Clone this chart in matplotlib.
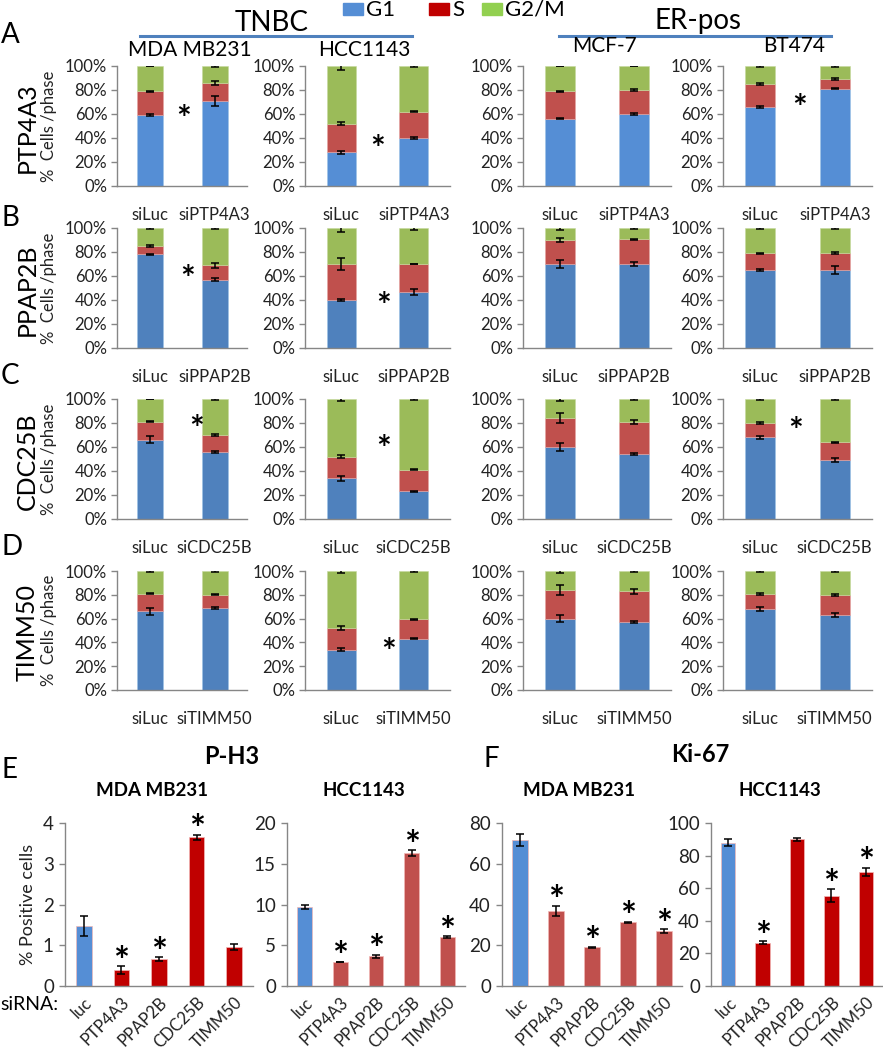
import matplotlib
matplotlib.use("Agg")
import matplotlib.pyplot as plt
from matplotlib.patches import Rectangle
from matplotlib.lines import Line2D
import numpy as np

plt.rcParams['font.family'] = ['Lato', 'DejaVu Sans']

# ---------------- data ----------------
cell_lines = ["MDA MB231", "HCC1143", "MCF-7", "BT474"]
genes = ["PTP4A3", "PPAP2B", "CDC25B", "TIMM50"]
phases = ["G1", "S", "G2/M"]

# G1 and S percentages: [cell line][siLuc, siGene]
g1_ptp4a3 = [[59, 71], [28, 40], [56, 60], [66, 81]]
s_ptp4a3 = [[20, 15], [24, 22], [23, 20], [19, 8.5]]
g1_ppap2b = [[78, 57], [40, 47], [70, 70], [65, 65]]
s_ppap2b = [[7, 12], [30, 23], [20, 20.5], [14, 14]]
g1_cdc25b = [[66, 56], [34, 23], [60, 54], [68, 49]]
s_cdc25b = [[15, 14], [18, 18], [24, 27], [12, 15]]
g1_timm50 = [[66, 69], [34, 43], [60, 57], [68, 63]]
s_timm50 = [[15, 11], [18, 16.5], [24, 26], [13, 17]]

# error bars at the G1 top, G1+S top and 100% top
eg1_ptp4a3 = [[1, 4], [1, 1], [0.5, 1], [1, 0.5]]
es_ptp4a3 = [[0.5, 1.5], [1.5, 0.5], [0.5, 0.7], [0.5, 0.8]]
eg2_ptp4a3 = [[0.3, 1], [3, 1], [0.3, 0.3], [0.5, 1]]
eg1_ppap2b = [[0.5, 1.5], [0.5, 2.5], [3, 1.5], [1, 3.5]]
es_ppap2b = [[1, 2], [5, 0.3], [2, 0.5], [0.5, 0.8]]
eg2_ppap2b = [[0.5, 1], [3, 1.5], [2, 0.5], [1, 1]]
eg1_cdc25b = [[3, 0.8], [2, 0.7], [3, 1], [1.5, 1.5]]
es_cdc25b = [[0.5, 0.5], [1.5, 0.5], [4, 1.5], [0.8, 0.5]]
eg2_cdc25b = [[0.3, 1], [1.5, 0.5], [1.5, 0.5], [0.5, 1]]
eg1_timm50 = [[3, 1], [1.5, 0.5], [3, 1], [1.5, 2]]
es_timm50 = [[0.5, 0.5], [1.5, 0.5], [4, 2], [0.8, 1]]
eg2_timm50 = [[0.5, 0.5], [1.5, 0.5], [1.5, 0.5], [0.5, 1]]

# significance stars: (row, col, x position between bars, y %)
stars_cycle = [(0, 0, 0.53, 63), (0, 1, 0.5, 38), (0, 3, 0.53, 72),
               (1, 0, 0.58, 65), (1, 1, 0.58, 42),
               (2, 0, 0.73, 82), (2, 1, 0.58, 66), (2, 3, 0.47, 81),
               (3, 1, 0.65, 39)]

sirna = ["luc", "PTP4A3", "PPAP2B", "CDC25B", "TIMM50"]
ph3_mda = [1.47, 0.39, 0.66, 3.65, 0.96]
ph3_mda_err = [0.24, 0.1, 0.05, 0.06, 0.08]
ph3_mda_star = [False, True, True, True, False]
ph3_hcc = [9.7, 2.95, 3.65, 16.3, 6.05]
ph3_hcc_err = [0.2, 0.05, 0.2, 0.4, 0.1]
ph3_hcc_star = [False, True, True, True, True]
ki67_mda = [71.5, 37, 19, 31.2, 27]
ki67_mda_err = [3, 2.5, 0.3, 0.3, 1]
ki67_mda_star = [False, True, True, True, True]
ki67_hcc = [88, 26.5, 90, 55.5, 70]
ki67_hcc_err = [2, 1, 0.8, 4, 2.5]
ki67_hcc_star = [False, True, False, True, True]

# ---------------- layout ----------------
W, H = 883, 1050
fig = plt.figure(figsize=(W / 100, H / 100), dpi=100)

def ax_px(x0, x1, ytop, ybot):
    return fig.add_axes([x0 / W, 1 - ybot / H, (x1 - x0) / W, (ybot - ytop) / H])

SPINE = '#868686'
BLUE_L = '#558ED5'
BLUE_D = '#4F81BD'
RED = '#C0504D'
DRED = '#C00000'
GREEN = '#9BBB59'

def style(ax):
    for sp in ['top', 'right']:
        ax.spines[sp].set_visible(False)
    for sp in ['left', 'bottom']:
        ax.spines[sp].set_color(SPINE)
        ax.spines[sp].set_linewidth(1.0)
    ax.tick_params(axis='y', direction='out', length=4, color=SPINE, width=1,
                   labelsize=12, pad=3, labelcolor='#222222')
    ax.tick_params(axis='x', length=0, labelsize=12, labelcolor='#222222')

def star(ax, x, y, fs):
    ax.annotate("*", (x, y), xytext=(0, -fs * 0.28), textcoords='offset points',
                fontsize=fs, fontweight='bold', ha='center', va='center',
                annotation_clip=False, zorder=5)

col_px = [(117, 247), (305, 450), (523, 671), (723, 872)]
row_px = [(66, 186), (228, 348), (399, 519), (571, 690)]

g1_all = [g1_ptp4a3, g1_ppap2b, g1_cdc25b, g1_timm50]
s_all = [s_ptp4a3, s_ppap2b, s_cdc25b, s_timm50]
eg1_all = [eg1_ptp4a3, eg1_ppap2b, eg1_cdc25b, eg1_timm50]
es_all = [es_ptp4a3, es_ppap2b, es_cdc25b, es_timm50]
eg2_all = [eg2_ptp4a3, eg2_ppap2b, eg2_cdc25b, eg2_timm50]

ekw = dict(fmt='none', ecolor='black', elinewidth=1.1, capsize=3, capthick=1.1)

axes_grid = {}
for r, gene in enumerate(genes):
    blue = BLUE_L if r == 0 else BLUE_D
    for c in range(4):
        ax = ax_px(col_px[c][0], col_px[c][1], row_px[r][0], row_px[r][1])
        axes_grid[(r, c)] = ax
        style(ax)
        x = np.arange(2)
        g1 = np.array(g1_all[r][c], float)
        s = np.array(s_all[r][c], float)
        g2 = 100 - g1 - s
        ax.bar(x, g1, 0.4, color=blue, edgecolor='#9DC3E6', linewidth=0.4, zorder=2)
        ax.bar(x, s, 0.4, bottom=g1, color=RED, edgecolor='#E6A5A3', linewidth=0.4, zorder=2)
        ax.bar(x, g2, 0.4, bottom=g1 + s, color=GREEN, edgecolor='#C6DA9E', linewidth=0.4, zorder=2)
        ax.errorbar(x, g1, yerr=eg1_all[r][c], zorder=3, **ekw)
        ax.errorbar(x, g1 + s, yerr=es_all[r][c], zorder=3, **ekw)
        ax.errorbar(x, g1 + s + g2, yerr=eg2_all[r][c], zorder=3, **ekw)
        ax.set_xlim(-0.5, 1.5)
        ax.set_ylim(0, 100)
        ax.set_yticks([0, 20, 40, 60, 80, 100])
        ax.set_yticklabels([f"{v}%" for v in [0, 20, 40, 60, 80, 100]])
        ax.set_xticks(x)
        ax.set_xticklabels(["siLuc", "si" + gene])
        ax.tick_params(axis='x', pad=15)
        if c == 0:
            ax.set_ylabel("%  Cells /phase", fontsize=12, labelpad=6, color='#222222')
        ax.patch.set_alpha(0)

for (r, c, xs, ys) in stars_cycle:
    star(axes_grid[(r, c)], xs, ys, 25)

# row labels
row_letter_y = [35, 218, 376, 547]
for r, gene in enumerate(genes):
    fig.text(1 / W, 1 - row_letter_y[r] / H, "ABCD"[r], fontsize=20, ha='left', va='center')
    yc = (row_px[r][0] + row_px[r][1]) / 2 + 2
    fig.text(27 / W, 1 - yc / H, gene, fontsize=18, rotation=90, ha='center', va='center')

# column titles
col_title = [(190, 50), (364, 50), (604, 46), (794, 46)]
for c, name in enumerate(cell_lines):
    fig.text(col_title[c][0] / W, 1 - col_title[c][1] / H, name, fontsize=15,
             ha='center', va='center')

# group headers
fig.text(272 / W, 1 - 23 / H, "TNBC", fontsize=20, ha='center', va='center')
fig.text(698 / W, 1 - 21 / H, "ER-pos", fontsize=20, ha='center', va='center')
fig.add_artist(Line2D([140 / W, 412 / W], [1 - 36 / H, 1 - 36 / H], color='#4F81BD', lw=2.2))
fig.add_artist(Line2D([559 / W, 831 / W], [1 - 36 / H, 1 - 36 / H], color='#4F81BD', lw=2.2))

# legend
leg_items = [(343, '#558ED5', "G1"), (429, DRED, "S"), (482, '#92D050', "G2/M")]
for (x0, col, lab) in leg_items:
    fig.add_artist(Rectangle((x0 / W, 1 - 15 / H), 20 / W, 12 / H, color=col,
                             transform=fig.transFigure))
    fig.text((x0 + 23) / W, 1 - 10 / H, lab, fontsize=16, ha='left', va='center')

# ---------------- bottom panels ----------------
bot_px = [(65, 253), (287, 465), (502, 682), (711, 883)]
bot_y = (823, 986)
bot_vals = [ph3_mda, ph3_hcc, ki67_mda, ki67_hcc]
bot_err = [ph3_mda_err, ph3_hcc_err, ki67_mda_err, ki67_hcc_err]
bot_star = [ph3_mda_star, ph3_hcc_star, ki67_mda_star, ki67_hcc_star]
bot_color = [DRED, RED, RED, DRED]
bot_ylim = [(4, 1), (20, 5), (80, 20), (100, 20)]

for i in range(4):
    ax = ax_px(bot_px[i][0], bot_px[i][1], bot_y[0], bot_y[1])
    style(ax)
    x = np.arange(5)
    vals = np.array(bot_vals[i])
    cols = [BLUE_L] + [bot_color[i]] * 4
    ax.bar(x, vals, 0.42, color=cols, edgecolor='#F2B8B6', linewidth=0.5, zorder=2)
    ax.errorbar(x, vals, yerr=bot_err[i], zorder=3, **ekw)
    top, step = bot_ylim[i]
    ax.set_ylim(0, top)
    ax.set_yticks(np.arange(0, top + step / 2, step))
    ax.set_xlim(-0.5, 4.5)
    ax.set_xticks(x)
    ax.set_xticklabels(sirna, rotation=45, ha='right', rotation_mode='anchor')
    ax.tick_params(axis='x', pad=6, labelsize=12)
    ax.tick_params(axis='y', labelsize=13.5, pad=4)
    for xi, v, e, st in zip(x, vals, bot_err[i], bot_star[i]):
        if st:
            star(ax, xi, v + e + top * 0.085, 27)
    if i == 0:
        ax.set_ylabel("% Positive cells", fontsize=13, labelpad=5, color='#222222')
    ax.patch.set_alpha(0)

fig.text(1 / W, 1 - 770 / H, "E", fontsize=20, ha='left', va='center')
fig.text(483 / W, 1 - 759 / H, "F", fontsize=20, ha='left', va='center')
fig.text(232 / W, 1 - 757 / H, "P-H3", fontsize=17, fontweight='bold', ha='center', va='center')
fig.text(700 / W, 1 - 755 / H, "Ki-67", fontsize=17, fontweight='bold', ha='center', va='center')
for (xc, name) in [(152, "MDA MB231"), (364, "HCC1143"), (579, "MDA MB231"), (780, "HCC1143")]:
    fig.text(xc / W, 1 - 791 / H, name, fontsize=13.5, fontweight='bold', ha='center', va='center')
fig.text(0 / W, 1 - 1005 / H, "siRNA:", fontsize=14, ha='left', va='center')

fig.savefig("out.png", dpi=100)
